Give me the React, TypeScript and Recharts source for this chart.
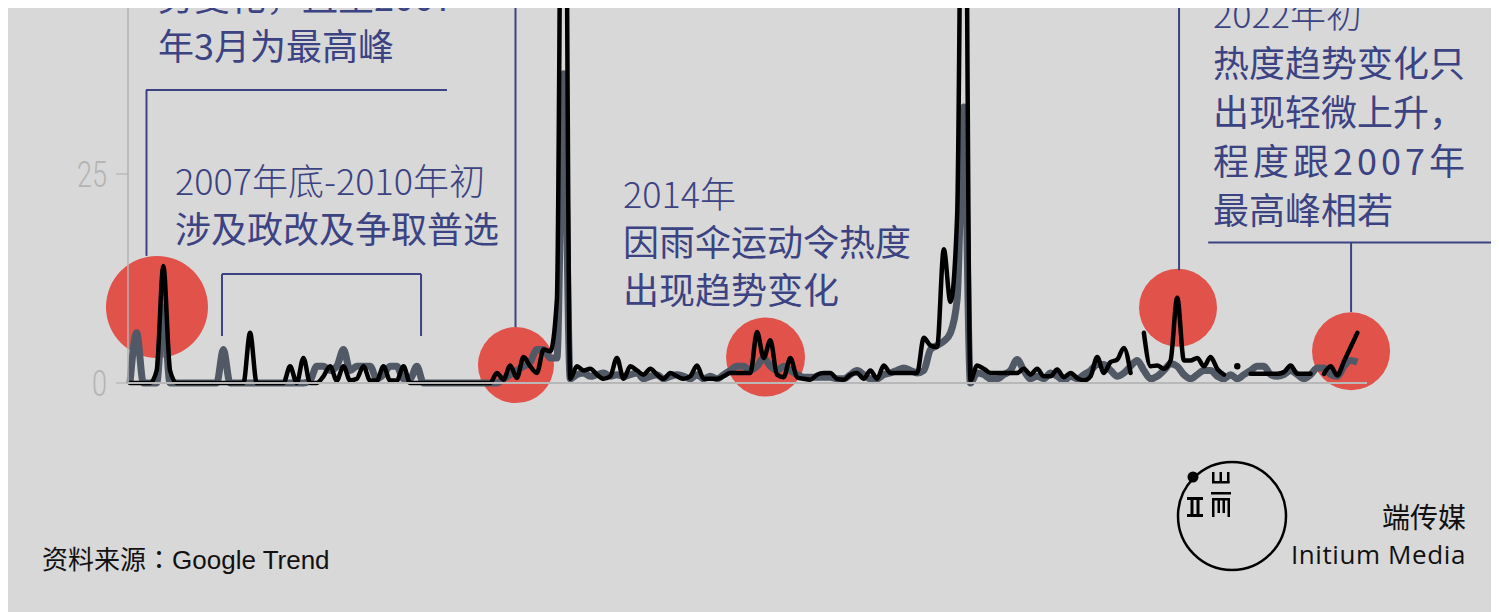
import { LineChart, Line, XAxis, YAxis, ReferenceDot, ReferenceLine } from 'recharts';

// monthly Google Trend index, Oct 2006 .. Feb 2022
const START_T = 2006.75;

const blackSeries: (number | null)[] = [
  0, 0, 0, 0, 1.5, 14, 1.5, 0, 0, 0,
  0, 0, 0, 0, 0, 0, 0, 0, 6, 0,
  0, 0, 0, 0, 2, 0, 3, 0, 0, 0.8,
  2, 0.3, 2, 0.3, 0.5, 2, 0.3, 0.3, 2, 0.3,
  0.3, 2, 0, 0, 0, 0, 0, 0, 0, 0,
  0, 0, 0, 0, 0, 1.2, 0.4, 2.1, 0.6, 3.1,
  2, 1.2, 4, 3.8, 10, 100, 0.5, 2, 1.5, 1.7,
  1, 0.5, 0.8, 3, 0.5, 2, 1.5, 1, 1.7, 1,
  0.5, 1.2, 0.8, 0.5, 0.8, 2.1, 0.5, 0.5, 0.5, 0.8,
  1.2, 1.2, 1.2, 1.2, 6.1, 3, 5.1, 1, 0.7, 3,
  0.7, 0.5, 0.4, 1, 1.2, 1.2, 0.5, 0.4, 1, 1.2,
  0.5, 1.5, 0.5, 2.1, 1.2, 1.2, 1.2, 1.2, 1.2, 5.4,
  4.5, 4.3, 16, 9.7, 20, 90, 0.3, 2.1, 1.7, 1.2,
  1.2, 1.2, 1.2, 1.2, 1.7, 1, 1.7, 0.8, 0.8, 1.6,
  0.7, 1.2, 0.6, 0.3, 0.8, 3.1, 1.2, 2.5, 2.8, 4.2,
  1.2, null, 6, 2, 2.1, 1.7, 2.7, 10.2, 2.7, 2.7,
  3, 2, 3.1, 1.7, 1, null, 2, null, 1.1, 1.1,
  1.1, 1.1, 1.1, 1.3, 2.1, 1.1, 1.1, 1.1, null, 1.1,
  2, 0.9, 2.6, 4.3, 6,
];

const greySeries: number[] = [
  0, 6, 0, 0, 0, 9, 0, 0, 0, 0,
  0, 0, 0, 0, 4, 0, 0, 0, 0, 0,
  0, 0, 0, 0, 0, 0, 0, 0.3, 2, 2,
  1.5, 2, 4, 1.5, 2, 2, 2, 0.5, 1, 2,
  2, 0.5, 0.5, 2, 0, 0, 0, 0, 0, 0,
  0, 0, 0, 0, 0, 0, 0.5, 1, 1.5, 2,
  2.5, 4, 4, 3, 3, 37, 0.5, 1, 1.2, 0.8,
  1, 1.2, 0.8, 1, 0.8, 1, 1.2, 0.5, 0.8, 1,
  0.5, 0.8, 1, 0.8, 0.5, 1, 0.5, 0.8, 0.5, 1,
  1.5, 2, 2, 1.5, 2, 3, 2, 1.5, 2, 1.5,
  1, 0.7, 0.7, 0.7, 0.7, 0.7, 0.5, 0.5, 1, 1.5,
  1, 0.5, 0.5, 1, 1.2, 1.5, 1.8, 1.5, 1.2, 1.5,
  4, 4.5, 5, 6, 10, 33, 0, 1.2, 1, 0.5,
  0.5, 1, 1.5, 2.8, 1.5, 0.5, 0.8, 0.5, 1.2, 0.8,
  0.3, 0.8, 0.5, 1, 1.5, 2.2, 2.2, 1.5, 0.8, 1.2,
  2, 2.7, 1.5, 0.5, 0.8, 1.5, 2.3, 2, 1, 0.5,
  1, 1.5, 1.5, 0.8, 0.5, 1, 0.5, 1, 1.5, 2,
  2, 1, 0.8, 1, 1.5, 1, 0.5, 1, 1.8, 1.8,
  1, 0.8, 2, 2.7, 2.5,
];

const yTicks = [0, 25];

// highlighted moments (time, value, radius)
const highlights = [
  { t: 2007.087, v: 9.1, r: 51 },
  { t: 2011.572, v: 2.15, r: 38 },
  { t: 2014.69, v: 3.1, r: 39.5 },
  { t: 2019.843, v: 9.0, r: 39 },
  { t: 2022.005, v: 3.8, r: 39 },
];

// annotation leader lines in (time, value)
const leaders = [
  [{ x: 2006.95, y: 35.05 }, { x: 2010.71, y: 35.05 }],
  [{ x: 2006.956, y: 35.05 }, { x: 2006.956, y: 15.2 }],
  [{ x: 2007.899, y: 13.04 }, { x: 2010.386, y: 13.04 }],
  [{ x: 2007.899, y: 13.04 }, { x: 2007.899, y: 5.62 }],
  [{ x: 2010.386, y: 13.04 }, { x: 2010.386, y: 5.62 }],
  [{ x: 2011.566, y: 100 }, { x: 2011.566, y: 6.7 }],
  [{ x: 2019.856, y: 100 }, { x: 2019.856, y: 13.5 }],
  [{ x: 2020.22, y: 16.8 }, { x: 2023.77, y: 16.8 }],
  [{ x: 2022.005, y: 16.8 }, { x: 2022.005, y: 8.5 }],
];

const data = blackSeries.map((b, i) => ({
  t: START_T + i / 12,
  black: b,
  grey: greySeries[i],
}));

const NAVY = '#3c4383';
const RED = '#e0524a';
const CJK = '"Noto Sans CJK SC", sans-serif';

const renderLoneDot = (props: any) => {
  const { cx, cy, index } = props;
  const alone =
    blackSeries[index] != null && blackSeries[index - 1] == null && blackSeries[index + 1] == null;
  if (!alone || cx == null || cy == null) return <g key={`d-${index}`} />;
  return <circle key={`d-${index}`} cx={cx} cy={cy} r={3.2} fill="#000" />;
};

// thin, condensed numerals like the original
const YTick = (props: any) => {
  const { x, y, payload } = props;
  const label = String(payload.value);
  return (
    <text
      x={x}
      y={y}
      dy="0.36em"
      textAnchor="end"
      fill="#b4b4b4"
      fontSize={36}
      fontWeight={300}
      fontFamily="Roboto, sans-serif"
      textLength={label.length * 15}
      lengthAdjust="spacingAndGlyphs"
    >
      {label}
    </text>
  );
};

const noteStyle = {
  position: 'absolute' as const,
  color: NAVY,
  fontFamily: CJK,
  fontSize: 36,
  lineHeight: '49px',
  whiteSpace: 'nowrap' as const,
};

export default function App() {
  return (
    <div
      style={{
        position: 'relative',
        width: 1484,
        height: 604,
        background: '#d8d8d8',
        overflow: 'hidden',
      }}
    >
      <div style={{ position: 'absolute', left: 0, top: -461 }}>
        <LineChart
          width={1484}
          height={890}
          data={data}
          margin={{ top: 0, right: 125, bottom: 53, left: 0 }}
        >
          <XAxis
            type="number"
            dataKey="t"
            domain={[2006.725, 2022.204]}
            height={1}
            tick={false}
            tickLine={false}
            axisLine={{ stroke: '#b8b8b8', strokeWidth: 2 }}
          />
          <YAxis
            width={120}
            domain={[0, 100]}
            ticks={yTicks}
            interval={0}
            tickSize={12}
            tickMargin={9}
            tickLine={{ stroke: '#ababab' }}
            axisLine={{ stroke: '#b3b3b3', strokeWidth: 1.5 }}
            tick={<YTick />}
          />
          {highlights.map((h, i) => (
            <ReferenceDot
              key={`h-${i}`}
              x={h.t}
              y={h.v}
              r={h.r}
              fill={RED}
              stroke="none"
              ifOverflow="visible"
              zIndex={50}
            />
          ))}
          {leaders.map((seg, i) => (
            <ReferenceLine
              key={`l-${i}`}
              segment={seg}
              stroke={NAVY}
              strokeWidth={2}
              ifOverflow="visible"
            />
          ))}
          <Line
            type="monotone"
            dataKey="grey"
            stroke="#515966"
            strokeWidth={7}
            strokeLinejoin="round"
            dot={false}
            activeDot={false}
            isAnimationActive={false}
          />
          <Line
            type="monotone"
            dataKey="black"
            stroke="#000000"
            strokeWidth={4.5}
            strokeLinejoin="round"
            strokeLinecap="round"
            dot={renderLoneDot}
            activeDot={false}
            isAnimationActive={false}
          />
        </LineChart>
      </div>

      <div style={{ ...noteStyle, left: 150, top: -37, fontWeight: 400 }}>
        <div>势变化，直至2007</div>
        <div>年3月为最高峰</div>
      </div>

      <div style={{ ...noteStyle, left: 167, top: 147, lineHeight: '48px' }}>
        <div style={{ fontWeight: 300 }}>2007年底-2010年初</div>
        <div style={{ fontWeight: 400 }}>涉及政改及争取普选</div>
      </div>

      <div style={{ ...noteStyle, left: 615, top: 160, lineHeight: '48px' }}>
        <div style={{ fontWeight: 300 }}>2014年</div>
        <div style={{ fontWeight: 400 }}>因雨伞运动令热度</div>
        <div style={{ fontWeight: 400 }}>出现趋势变化</div>
      </div>

      <div style={{ ...noteStyle, left: 1205, top: -20 }}>
        <div style={{ fontWeight: 300 }}>2022年初</div>
        <div style={{ fontWeight: 400 }}>热度趋势变化只</div>
        <div style={{ fontWeight: 400 }}>出现轻微上升，</div>
        <div style={{ fontWeight: 400, letterSpacing: 4 }}>程度跟2007年</div>
        <div style={{ fontWeight: 400 }}>最高峰相若</div>
      </div>

      <div
        style={{
          position: 'absolute',
          left: 34,
          top: 532,
          fontSize: 26,
          lineHeight: '36px',
          color: '#111',
          fontFamily: '"Liberation Sans", "Noto Sans CJK SC", sans-serif',
          whiteSpace: 'nowrap',
        }}
      >
        资料来源<span style={{ fontFamily: '"Noto Sans CJK TC", sans-serif' }}>：</span>Google Trend
      </div>

      <svg
        style={{ position: 'absolute', left: 1160, top: 446 }}
        width={130}
        height={130}
        viewBox="1168 454 130 130"
      >
        <circle cx={1232} cy={516} r={54} fill="none" stroke="#000" strokeWidth={2.5} />
        <circle cx={1193} cy={477} r={5.5} fill="#000" />
        <g fill="#000">
          <rect x={1187} y={497} width={16} height={3} />
          <rect x={1187} y={514} width={16} height={3} />
          <rect x={1190.5} y={497} width={3} height={20} />
          <rect x={1196.5} y={497} width={3} height={20} />
          <rect x={1212} y={472} width={2.5} height={11} />
          <rect x={1219.5} y={472} width={2.5} height={11} />
          <rect x={1227} y={472} width={2.5} height={11} />
          <rect x={1212} y={481} width={17.5} height={2.5} />
          <rect x={1211} y={492} width={20} height={2.5} />
          <rect x={1212} y={498} width={18} height={2.5} />
          <rect x={1212} y={498} width={2.5} height={19} />
          <rect x={1227.5} y={498} width={2.5} height={19} />
          <rect x={1217.5} y={498} width={2.5} height={15} />
          <rect x={1222.5} y={498} width={2.5} height={15} />
        </g>
      </svg>

      <div
        style={{
          position: 'absolute',
          right: 26,
          top: 490,
          textAlign: 'right',
          color: '#111',
          whiteSpace: 'nowrap',
        }}
      >
        <div style={{ fontFamily: CJK, fontSize: 28, lineHeight: '36px' }}>端传媒</div>
        <div
          style={{
            fontFamily: '"Open Sans", sans-serif',
            fontSize: 26,
            lineHeight: '30px',
            letterSpacing: 0.6,
            marginTop: 5,
          }}
        >
          Initium Media
        </div>
      </div>
    </div>
  );
}
